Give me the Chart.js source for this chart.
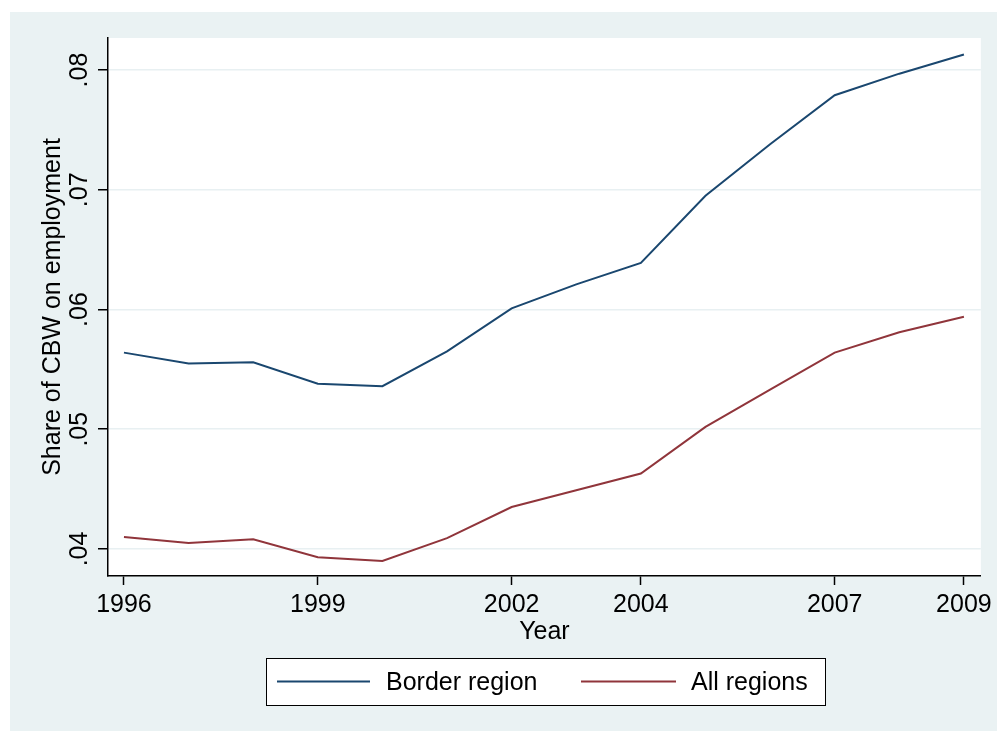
<!DOCTYPE html>
<html>
<head>
<meta charset="utf-8">
<script src="https://cdn.jsdelivr.net/npm/chart.js@4.4.1/dist/chart.umd.min.js"></script>
<style>
  body { margin: 0; background: #ffffff; }
  #wrap { position: absolute; left: 10px; top: 12px; width: 987px; height: 719px; background: #eaf2f3; }
</style>
</head>
<body>
<div id="wrap"><canvas id="lineChart" width="987" height="719"></canvas></div>
<script>
const years = [1996, 1997, 1998, 1999, 2000, 2001, 2002, 2003, 2004, 2005, 2006, 2007, 2008, 2009];
const borderRegion = [0.0564, 0.0555, 0.0556, 0.0538, 0.0536, 0.0565, 0.0601, 0.0621, 0.0639, 0.0695, 0.0738, 0.0779, 0.0797, 0.0813];
const allRegions = [0.0410, 0.0405, 0.0408, 0.0393, 0.0390, 0.0409, 0.0435, 0.0449, 0.0463, 0.0502, 0.0533, 0.0564, 0.0581, 0.0594];
const xTicks = [1996, 1999, 2002, 2004, 2007, 2009];
const yTicks = [0.04, 0.05, 0.06, 0.07, 0.08];
const yTickLabels = ['.04', '.05', '.06', '.07', '.08'];

const FONT = '"Liberation Sans", Arial, Helvetica, sans-serif';
const BLUE = '#1a476f';
const RED = '#90353b';

const toPoints = (vals) => years.map((y, i) => ({x: y, y: vals[i]}));

// white plot region + rotated y labels + boxed legend
const stataLook = {
    id: 'stataLook',
    beforeDraw(chart) {
        const {ctx, chartArea} = chart;
        ctx.save();
        ctx.fillStyle = '#ffffff';
        ctx.fillRect(chartArea.left, chartArea.top, chartArea.right - chartArea.left, chartArea.bottom - chartArea.top);
        ctx.restore();
    },
    afterDraw(chart) {
        const {ctx} = chart;
        const yScale = chart.scales.y;
        ctx.save();
        ctx.fillStyle = '#000';
        ctx.font = '25px ' + FONT;
        ctx.textAlign = 'center';
        ctx.textBaseline = 'middle';
        yTicks.forEach((v, i) => {
            const py = yScale.getPixelForValue(v);
            ctx.save();
            ctx.translate(70, py);
            ctx.rotate(-Math.PI / 2);
            ctx.fillText(yTickLabels[i], 0, 0);
            ctx.restore();
        });

        // legend
        const bx = 256, by = 646, bw = 559, bh = 47;
        ctx.fillStyle = '#ffffff';
        ctx.fillRect(bx, by, bw, bh);
        ctx.strokeStyle = '#000';
        ctx.lineWidth = 1;
        ctx.strokeRect(bx + 0.5, by + 0.5, bw, bh);
        const ly = by + bh / 2;
        const items = [
            {ds: chart.data.datasets[0], x0: 267, x1: 360, tx: 376},
            {ds: chart.data.datasets[1], x0: 571, x1: 666, tx: 681}
        ];
        ctx.textAlign = 'left';
        items.forEach(it => {
            ctx.strokeStyle = it.ds.borderColor;
            ctx.lineWidth = 2;
            ctx.beginPath();
            ctx.moveTo(it.x0, ly);
            ctx.lineTo(it.x1, ly);
            ctx.stroke();
            ctx.fillStyle = '#000';
            ctx.fillText(it.ds.label, it.tx, ly + 2);
        });
        ctx.restore();
    }
};

const ctx = document.getElementById('lineChart');
const myChart = new Chart(ctx, {
    type: 'line',
    data: {
        datasets: [{
            label: 'Border region',
            data: toPoints(borderRegion),
            borderColor: BLUE,
            borderWidth: 2,
            pointRadius: 0,
            tension: 0
        }, {
            label: 'All regions',
            data: toPoints(allRegions),
            borderColor: RED,
            borderWidth: 2,
            pointRadius: 0,
            tension: 0
        }]
    },
    options: {
        responsive: false,
        animation: false,
        layout: {
            autoPadding: false,
            padding: {left: 0, top: 26, right: 14, bottom: 75}
        },
        plugins: {
            legend: {display: false},
            tooltip: {enabled: false}
        },
        scales: {
            x: {
                type: 'linear',
                min: 1995.753,
                max: 2009.262,
                afterBuildTicks: (scale) => { scale.ticks = xTicks.map(v => ({value: v})); },
                afterFit: (scale) => { scale.height = 80; },
                border: {color: '#000', width: 1.5},
                grid: {drawOnChartArea: false, tickLength: 9, tickColor: '#000', tickWidth: 1.5},
                ticks: {
                    autoSkip: false,
                    maxRotation: 0,
                    padding: 5,
                    color: '#000',
                    font: {family: FONT, size: 25},
                    callback: (v) => String(v)
                },
                title: {
                    display: true,
                    text: 'Year',
                    color: '#000',
                    font: {family: FONT, size: 25},
                    padding: {top: 0, bottom: 9}
                }
            },
            y: {
                min: 0.03774,
                max: 0.08268,
                afterBuildTicks: (scale) => { scale.ticks = yTicks.map(v => ({value: v})); },
                afterFit: (scale) => { scale.width = 98; },
                border: {color: '#000', width: 1.5},
                grid: {color: '#e8f0f2', lineWidth: 1.5, tickLength: 10, tickColor: '#000', tickWidth: 1.5},
                ticks: {display: false},
                title: {
                    display: true,
                    text: 'Share of CBW on employment',
                    color: '#000',
                    font: {family: FONT, size: 25},
                    padding: {top: 28, bottom: 0}
                }
            }
        }
    },
    plugins: [stataLook]
});
</script>
</body>
</html>
